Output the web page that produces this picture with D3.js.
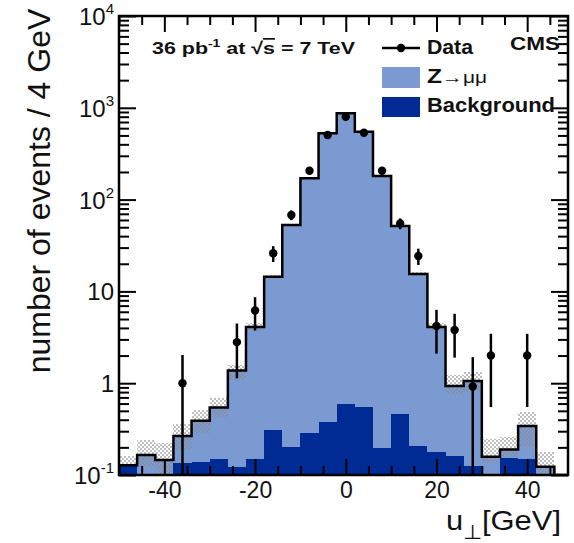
<!DOCTYPE html>
<html>
<head>
<meta charset="utf-8">
<script src="https://cdn.jsdelivr.net/npm/d3@7"></script>
<style>
  body { margin: 0; background: #fff; }
  svg { display: block; }
  text { font-family: "Liberation Sans", Arial, sans-serif; fill: #111; }
</style>
</head>
<body>
<div id="chart"></div>
<script>
// 4 GeV bins, centres
var binCenters = [-48, -44, -40, -36, -32, -28, -24, -20, -16, -12, -8, -4, 0, 4, 8, 12, 16, 20, 24, 28, 32, 36, 40, 44, 48]
// background (dark) and Z->mumu (light) stacked on top
var bkgValues = [0.128, 0, 0, 0.134, 0.14, 0.149, 0.122, 0.148, 0.31, 0.2, 0.29, 0.38, 0.59, 0.555, 0.195, 0.458, 0.205, 0.179, 0.16, 0.125, 0, 0.155, 0.149, 0, 0]
var zmmValues = [0, 0.165, 0.146, 0.132, 0.25, 0.396, 1.25, 3.95, 14.1, 52.6, 170.7, 526.6, 870.4, 549.4, 180.8, 51, 15.3, 3.92, 0.77, 0.935, 0.158, 0.035, 0.193, 0.123, 0]
// MC uncertainty band (upper / lower edge)
var bandHi = [0.161, 0.24, 0.225, 0.36, 0.51, 0.688, 1.58, 4.5, 15.2, 54, 174, 535, 885, 560, 184, 53, 16.2, 4.5, 1.22, 1.33, 0.245, 0.26, 0.49, 0.179, 0]
var bandLo = [0.128, 0.123, 0.09, 0.187, 0.286, 0.43, 1.08, 3.75, 13.6, 51.3, 168, 519, 858, 541, 178, 50, 14.6, 3.7, 0.74, 0.81, 0.134, 0.158, 0.203, 0.09, 0]
// data points
var dataX = [-36, -24, -20, -16, -12, -8, -4, 0, 4, 8, 12, 16, 20, 24, 28, 32, 40]
var dataY = [1, 2.8, 6.2, 26, 68, 206, 506, 800, 535, 206, 55, 24.3, 4.2, 3.8, 0.92, 2, 2]
var dataErr = [1.03, 1.67, 2.45, 5.1, 8.2, 14, 22, 28, 23, 14, 7.4, 4.9, 2.1, 1.9, 1.0, 1.45, 1.45]
// axes
var xMajor = [-40, -20, 0, 20, 40]
var xMinor = [-50, -45, -35, -30, -25, -15, -10, -5, 5, 10, 15, 25, 30, 35, 45]
var yMajor = [0.1, 1, 10, 100, 1000, 10000]
var yLabels = [["10", "-1"], ["1", ""], ["10", ""], ["10", "2"], ["10", "3"], ["10", "4"]]

var width = 574, height = 543
var L = 119, R = 568, T = 16, B = 475
var lightBlue = "#7b9ad1", darkBlue = "#002b95"

var x = d3.scaleLinear().domain([-50, 49]).range([L, R])
var y = d3.scaleLog().domain([0.1, 1e4]).range([B, T]).clamp(true)
function yv(v) { return v > 0 ? y(v) : B }

var svg = d3.select("#chart").append("svg")
  .attr("width", width).attr("height", height)

var defs = svg.append("defs")
defs.append("clipPath").attr("id", "clip")
  .append("rect").attr("x", L).attr("y", T).attr("width", R - L).attr("height", B - T)
var pat = defs.append("pattern").attr("id", "hatch")
  .attr("patternUnits", "userSpaceOnUse").attr("width", 4).attr("height", 4)
pat.append("rect").attr("x", 0).attr("y", 0).attr("width", 2).attr("height", 2).attr("fill", "#8a8a8a").attr("opacity", 0.55)
pat.append("rect").attr("x", 2).attr("y", 2).attr("width", 2).attr("height", 2).attr("fill", "#8a8a8a").attr("opacity", 0.55)

var plot = svg.append("g").attr("clip-path", "url(#clip)")

// background fill
plot.selectAll("rect.bkg").data(binCenters).join("rect")
  .attr("class", "bkg")
  .attr("shape-rendering", "crispEdges")
  .attr("x", function(d) { return x(d - 2) })
  .attr("width", function(d) { return x(d + 2) - x(d - 2) })
  .attr("y", function(d, i) { return yv(bkgValues[i]) })
  .attr("height", function(d, i) { return B - yv(bkgValues[i]) })
  .attr("fill", darkBlue)

// Z->mumu stacked
plot.selectAll("rect.zmm").data(binCenters).join("rect")
  .attr("class", "zmm")
  .attr("shape-rendering", "crispEdges")
  .attr("x", function(d) { return x(d - 2) })
  .attr("width", function(d) { return x(d + 2) - x(d - 2) })
  .attr("y", function(d, i) { return yv(bkgValues[i] + zmmValues[i]) })
  .attr("height", function(d, i) { return yv(bkgValues[i]) - yv(bkgValues[i] + zmmValues[i]) })
  .attr("fill", lightBlue)

// uncertainty band
plot.selectAll("rect.band").data(binCenters).join("rect")
  .attr("class", "band")
  .attr("shape-rendering", "crispEdges")
  .attr("x", function(d) { return x(d - 2) })
  .attr("width", function(d) { return x(d + 2) - x(d - 2) })
  .attr("y", function(d, i) { return yv(bandHi[i]) })
  .attr("height", function(d, i) { return bandHi[i] > 0 ? yv(bandLo[i]) - yv(bandHi[i]) : 0 })
  .attr("fill", "url(#hatch)")

// total outline
var pts = []
binCenters.forEach(function(d, i) {
  var t = bkgValues[i] + zmmValues[i]
  pts.push([x(d - 2), yv(t)])
  pts.push([x(d + 2), yv(t)])
})
plot.append("path")
  .attr("d", d3.line()(pts))
  .attr("fill", "none").attr("stroke", "#000").attr("stroke-width", 2.5)

// axes (ticks inside)
function tickStyle(g) {
  g.select(".domain").remove()
  g.selectAll(".tick line").attr("stroke", "#000").attr("stroke-width", 2)
}
svg.append("g").attr("transform", "translate(0," + B + ")")
  .call(d3.axisBottom(x).tickValues(xMajor).tickSize(-16).tickSizeOuter(0).tickPadding(7)
    .tickFormat(function(d) { return d < 0 ? "-" + Math.abs(d) : d }))
  .call(tickStyle)
  .call(function(g) {
    g.selectAll("text").attr("font-size", 23).attr("fill", "#111").style("font-family", '"Liberation Sans", Arial, sans-serif')
  })
svg.append("g").attr("transform", "translate(0," + B + ")")
  .call(d3.axisBottom(x).tickValues(xMinor).tickSize(-9).tickFormat(""))
  .call(tickStyle)
svg.append("g").attr("transform", "translate(0," + T + ")")
  .call(d3.axisTop(x).tickValues(xMajor).tickSize(-16).tickFormat(""))
  .call(tickStyle)
svg.append("g").attr("transform", "translate(0," + T + ")")
  .call(d3.axisTop(x).tickValues(xMinor).tickSize(-9).tickFormat(""))
  .call(tickStyle)

var yMinor = []
yMajor.slice(0, -1).forEach(function(v) { for (var k = 2; k < 10; k++) yMinor.push(v * k) })

svg.append("g").attr("transform", "translate(" + L + ",0)")
  .call(d3.axisLeft(y).tickValues(yMajor).tickSize(-17).tickFormat(""))
  .call(tickStyle)
svg.append("g").attr("transform", "translate(" + L + ",0)")
  .call(d3.axisLeft(y).tickValues(yMinor).tickSize(-10).tickFormat(""))
  .call(tickStyle)
svg.append("g").attr("transform", "translate(" + R + ",0)")
  .call(d3.axisRight(y).tickValues(yMajor).tickSize(-17).tickFormat(""))
  .call(tickStyle)
svg.append("g").attr("transform", "translate(" + R + ",0)")
  .call(d3.axisRight(y).tickValues(yMinor).tickSize(-10).tickFormat(""))
  .call(tickStyle)

// y labels with exponents
yMajor.forEach(function(v, i) {
  var t = svg.append("text")
    .attr("x", 114).attr("y", y(v) + 9)
    .attr("text-anchor", "end").attr("font-size", 24)
  t.append("tspan").text(yLabels[i][0])
  if (yLabels[i][1]) {
    t.append("tspan").attr("font-size", 15).attr("dy", -11).text(yLabels[i][1])
  }
})

// frame
svg.append("rect").attr("x", L).attr("y", T).attr("width", R - L).attr("height", B - T)
  .attr("fill", "none").attr("stroke", "#000").attr("stroke-width", 2.5)

// data points
var dp = svg.append("g")
dp.selectAll("line").data(dataX).join("line")
  .attr("x1", function(d) { return x(d) }).attr("x2", function(d) { return x(d) })
  .attr("y1", function(d, i) { return yv(dataY[i] + dataErr[i]) })
  .attr("y2", function(d, i) { return yv(dataY[i] - dataErr[i]) })
  .attr("stroke", "#000").attr("stroke-width", 2.5)
dp.selectAll("circle").data(dataX).join("circle")
  .attr("cx", function(d) { return x(d) })
  .attr("cy", function(d, i) { return y(dataY[i]) })
  .attr("r", 4.2).attr("fill", "#000")

// axis titles
svg.append("text")
  .attr("transform", "translate(50,191) rotate(-90)")
  .attr("text-anchor", "middle").attr("font-size", 32)
  .text("number of events / 4 GeV")

var xt = svg.append("text").attr("x", 446).attr("y", 530).attr("font-size", 28)
  .attr("textLength", 115).attr("lengthAdjust", "spacingAndGlyphs")
xt.append("tspan").text("u")
xt.append("tspan").attr("font-size", 20).attr("dy", 9).text("\u22a5")
xt.append("tspan").attr("dy", -9).text("[GeV]")

// lumi label
var lumi = svg.append("text").attr("x", 152).attr("y", 54).attr("font-size", 17).attr("font-weight", "bold")
  .attr("textLength", 203).attr("lengthAdjust", "spacingAndGlyphs")
lumi.append("tspan").text("36 pb")
lumi.append("tspan").attr("font-size", 11).attr("dy", -7).text("-1")
lumi.append("tspan").attr("dy", 7).text(" at \u221a")
lumi.append("tspan").style("text-decoration", "overline").text("s")
lumi.append("tspan").text(" = 7 TeV")

svg.append("text").attr("x", 560).attr("y", 50).attr("text-anchor", "end")
  .attr("font-size", 19).attr("font-weight", "bold")
  .attr("textLength", 50).attr("lengthAdjust", "spacingAndGlyphs")
  .text("CMS")

// legend
var lg = svg.append("g")
lg.append("line").attr("x1", 382).attr("x2", 420).attr("y1", 48).attr("y2", 48)
  .attr("stroke", "#000").attr("stroke-width", 2.5)
lg.append("circle").attr("cx", 401).attr("cy", 48).attr("r", 4.2).attr("fill", "#000")
lg.append("text").attr("x", 427).attr("y", 54).attr("font-size", 20).attr("font-weight", "bold")
  .attr("textLength", 46).attr("lengthAdjust", "spacingAndGlyphs").text("Data")
lg.append("rect").attr("x", 382).attr("y", 67).attr("width", 38).attr("height", 21).attr("fill", lightBlue)
var zt = lg.append("text").attr("x", 427).attr("y", 83).attr("font-size", 20).attr("font-weight", "bold")
  .attr("textLength", 60).attr("lengthAdjust", "spacingAndGlyphs")
zt.append("tspan").text("Z")
zt.append("tspan").attr("font-size", 17).attr("font-weight", "normal").text("\u2192\u03bc\u03bc")
lg.append("rect").attr("x", 382).attr("y", 97).attr("width", 38).attr("height", 20).attr("fill", darkBlue)
lg.append("text").attr("x", 427).attr("y", 112).attr("font-size", 20).attr("font-weight", "bold")
  .attr("textLength", 128).attr("lengthAdjust", "spacingAndGlyphs").text("Background")
</script>
</body>
</html>
